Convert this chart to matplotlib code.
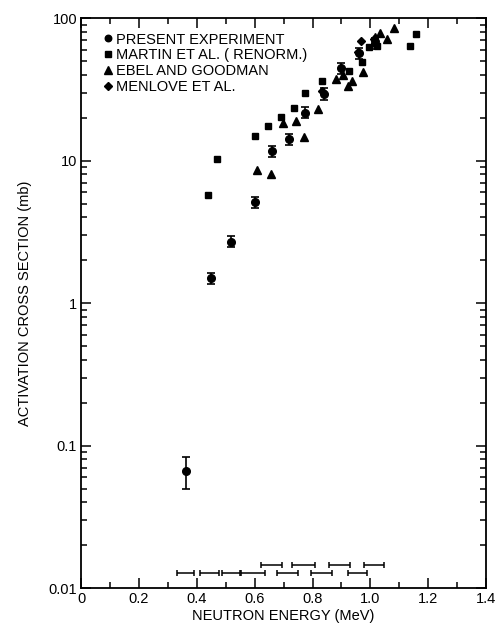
import numpy as np
import matplotlib
matplotlib.use('Agg')
import matplotlib.pyplot as plt
from matplotlib.ticker import FixedLocator, FixedFormatter, LogLocator, NullFormatter

plt.rcParams['font.family'] = ['Liberation Sans', 'DejaVu Sans']

# present experiment (circles, with error bars)
present_x = [0.361, 0.450, 0.519, 0.601, 0.659, 0.718, 0.774, 0.838, 0.898, 0.960, 1.017]
present_y = [0.066, 1.5, 2.7, 5.1, 11.6, 14.1, 21.7, 29.3, 44.4, 56.5, 66.5]
present_lo = [0.050, 1.37, 2.47, 4.65, 10.6, 12.9, 19.8, 26.7, 40.5, 51.5, 60.6]
present_hi = [0.083, 1.64, 2.96, 5.6, 12.7, 15.5, 23.8, 32.1, 48.7, 62.0, 73.0]

# Martin et al. (renorm.) - squares
martin_x = [0.439, 0.471, 0.602, 0.647, 0.690, 0.736, 0.773, 0.831, 0.925, 0.972, 0.994, 1.022, 1.136, 1.158]
martin_y = [5.7, 10.3, 14.9, 17.5, 20.1, 23.5, 29.7, 36.3, 42.3, 48.9, 62.5, 64.0, 64.0, 77.5]

# Ebel and Goodman - triangles
ebel_x = [0.607, 0.658, 0.699, 0.742, 0.772, 0.819, 0.881, 0.904, 0.923, 0.935, 0.973, 1.017, 1.032, 1.057, 1.080]
ebel_y = [8.6, 8.1, 18.5, 19.0, 14.6, 23.0, 37.6, 40.0, 33.3, 36.0, 41.7, 74.0, 79.0, 71.5, 84.7]

# Menlove et al. - diamonds
menlove_x = [0.831, 0.957, 0.969, 1.012]
menlove_y = [30.9, 58.0, 69.0, 71.0]

# energy resolution bars near the bottom
res_lo = [0.621, 0.730, 0.856, 0.979, 0.331, 0.412, 0.486, 0.553, 0.677, 0.794, 0.922]
res_hi = [0.696, 0.808, 0.928, 1.048, 0.389, 0.478, 0.550, 0.636, 0.748, 0.868, 0.988]
res_y = [0.0145, 0.0145, 0.0145, 0.0145, 0.0127, 0.0127, 0.0127, 0.0127, 0.0127, 0.0127, 0.0127]

xticks = [0, 0.2, 0.4, 0.6, 0.8, 1.0, 1.2, 1.4]
xticklabels = ['0', '0.2', '0.4', '0.6', '0.8', '1.0', '1.2', '1.4']
yticks = [0.01, 0.1, 1, 10, 100]
yticklabels = ['0.01', '0.1', '1', '10', '100']

fig = plt.figure(figsize=(4.95, 6.25), dpi=100)
ax = fig.add_axes([0.164, 0.059, 0.818, 0.912])

py = np.array(present_y)
yerr = [py - np.array(present_lo), np.array(present_hi) - py]
h1 = ax.errorbar(present_x, present_y, yerr=yerr, fmt='o', color='k', ms=5.5,
                 capsize=2.8, elinewidth=1.2, capthick=1.2, zorder=3)
h2, = ax.plot(martin_x, martin_y, 's', color='k', ms=5)
h3, = ax.plot(ebel_x, ebel_y, '^', color='k', ms=6)
h4, = ax.plot(menlove_x, menlove_y, 'D', color='k', ms=4.5)

lo = np.array(res_lo)
hi = np.array(res_hi)
mid = (lo + hi) / 2
ax.errorbar(mid, res_y, xerr=[mid - lo, hi - mid], fmt='none', ecolor='k',
            elinewidth=1.1, capsize=2.5, capthick=1.1)

ax.set_yscale('log')
ax.set_xlim(0, 1.4)
ax.set_ylim(0.01, 100)

ax.xaxis.set_major_locator(FixedLocator(xticks))
ax.xaxis.set_major_formatter(FixedFormatter(xticklabels))
ax.set_xticks(np.arange(0.1, 1.4, 0.2), minor=True)
ax.yaxis.set_major_locator(FixedLocator(yticks))
ax.yaxis.set_major_formatter(FixedFormatter(yticklabels))
ax.yaxis.set_minor_locator(LogLocator(base=10, subs=np.arange(2, 10)))
ax.yaxis.set_minor_formatter(NullFormatter())

ax.tick_params(which='both', direction='in', top=True, right=True, labelsize=10.5, width=1.1)
ax.tick_params(which='major', length=7, pad=3)
ax.tick_params(which='minor', length=4)
for s in ax.spines.values():
    s.set_linewidth(1.3)

ax.set_xlabel('NEUTRON ENERGY (MeV)', fontsize=10.5, labelpad=2)
ax.set_ylabel('ACTIVATION CROSS SECTION (mb)', fontsize=10.5, labelpad=12)

h1 = h1.lines[0]
ax.legend([h1, h2, h3, h4],
          ['PRESENT EXPERIMENT', 'MARTIN ET AL. ( RENORM.)', 'EBEL AND GOODMAN', 'MENLOVE ET AL.'],
          loc='upper left', bbox_to_anchor=(0.035, 0.99), frameon=False, fontsize=10.5,
          handlelength=0.6, handletextpad=0.2, labelspacing=0.12, borderaxespad=0.2,
          markerscale=0.85, numpoints=1)

fig.savefig('out.png', dpi=100)
